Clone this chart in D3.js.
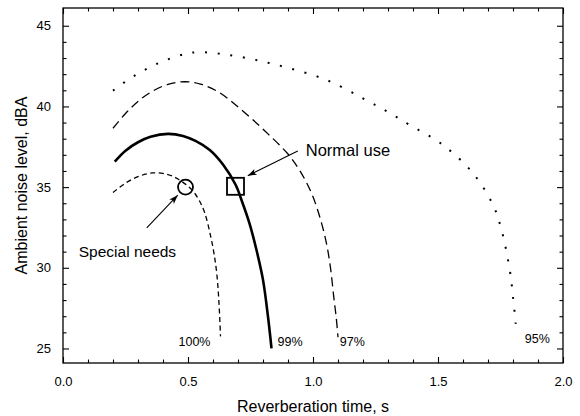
<!DOCTYPE html>
<html>
<head>
<meta charset="utf-8">
<script src="https://cdn.jsdelivr.net/npm/d3@7"></script>
<style>
  body { margin: 0; background: #fff; }
  svg text { font-family: "Liberation Sans", Arial, sans-serif; fill: #000; }
  .frame { fill: none; stroke: #000; stroke-width: 1.3; }
  .axis path { display: none; }
  .axis line { stroke: #000; stroke-width: 1.1; }
  .axis text { font-size: 13px; }
</style>
</head>
<body>
<svg width="580" height="416"></svg>
<script>
// ---- data (reverberation time s, noise level dBA) ----
const curve100 = [[0.2, 34.66], [0.25, 35.25], [0.3, 35.65], [0.36, 35.88], [0.42, 35.78], [0.46, 35.5],
  [0.494, 35.13], [0.52, 34.75], [0.544, 34.2], [0.567, 33.4], [0.59, 32.0], [0.605, 30.8],
  [0.616, 29.5], [0.624, 27.8], [0.63, 25.75]];
const curve99 = [[0.207, 36.58], [0.25, 37.26], [0.3, 37.78], [0.35, 38.12], [0.42, 38.3], [0.48, 38.17],
  [0.53, 37.86], [0.587, 37.3], [0.64, 36.4], [0.691, 35.13], [0.714, 34.2], [0.745, 32.8],
  [0.774, 31.1], [0.8, 29.25], [0.82, 26.97], [0.834, 25.0]];
const curve97 = [[0.2, 38.65], [0.25, 39.56], [0.3, 40.31], [0.35, 40.87], [0.42, 41.37], [0.487, 41.53],
  [0.55, 41.39], [0.62, 40.91], [0.68, 40.23], [0.75, 39.3], [0.82, 38.3], [0.9, 37.05], [0.94, 36.2],
  [0.97, 35.4], [1.0, 34.4], [1.03, 33.0], [1.054, 31.5], [1.07, 30.0], [1.083, 28.2],
  [1.093, 26.9], [1.1, 25.7]];
const curve95 = [[0.2, 40.98], [0.28, 41.85], [0.38, 42.67], [0.487, 43.25], [0.54, 43.36], [0.65, 43.22],
  [0.78, 42.85], [0.907, 42.36], [1.054, 41.64], [1.2, 40.5], [1.3, 39.65], [1.387, 38.85],
  [1.52, 37.61], [1.64, 35.86], [1.72, 33.9], [1.754, 32.35], [1.787, 29.87], [1.8, 28.21],
  [1.811, 26.52]];

const curveLabels = ["100%", "99%", "97%", "95%"];
const labelPos = [[0.59, 25.15], [0.858, 25.15], [1.107, 25.15], [1.847, 25.35]];

const xTicks = [0, 0.5, 1.0, 1.5, 2.0];
const xTickLabels = ["0.0", "0.5", "1.0", "1.5", "2.0"];
const yTicks = [25, 30, 35, 40, 45];

// marked design points and their callouts
const specialNeeds = [0.49, 35.0];
const normalUse = [0.69, 35.05];
const specialArrow = [[0.335, 32.47], [0.459, 34.5]];
const normalArrow = [[0.939, 37.24], [0.739, 35.7]];
const specialText = [0.063, 30.67];
const normalText = [0.971, 36.93];

const svg = d3.select("svg"),
    margin = {top: 8, right: 17, bottom: 53, left: 63},
    width = +svg.attr("width") - margin.left - margin.right,
    height = +svg.attr("height") - margin.top - margin.bottom;

const x = d3.scaleLinear().domain([0, 2]).range([0, width]);
const y = d3.scaleLinear().domain([24.1, 46.1]).range([height, 0]);

const g = svg.append("g").attr("transform", "translate(" + margin.left + "," + margin.top + ")");

const defs = svg.append("defs");
defs.append("marker")
    .attr("id", "head")
    .attr("viewBox", "0 0 10 10")
    .attr("refX", 10).attr("refY", 5)
    .attr("markerWidth", 9).attr("markerHeight", 9)
    .attr("markerUnits", "userSpaceOnUse")
    .attr("orient", "auto")
  .append("path")
    .attr("d", "M0,1.5 L10,5 L0,8.5 L2.5,5 Z")
    .style("fill", "#000");

// minor ticks every 0.1 s and every 1 dBA
const xMinor = d3.range(0, 2.0001, 0.1).filter(v => Math.abs(v * 2 - Math.round(v * 2)) > 1e-6);
const yMinor = d3.range(25, 46, 1).filter(v => v % 5 !== 0);

g.append("g").attr("class", "axis").attr("transform", "translate(0," + height + ")")
  .call(d3.axisBottom(x).tickValues(xTicks).tickSize(-6).tickPadding(14)
    .tickFormat((d, i) => xTickLabels[i]));
g.append("g").attr("class", "axis").attr("transform", "translate(0," + height + ")")
  .call(d3.axisBottom(x).tickValues(xMinor).tickSize(-3.5).tickFormat(""));
g.append("g").attr("class", "axis")
  .call(d3.axisTop(x).tickValues(xTicks).tickSize(-6).tickFormat(""));
g.append("g").attr("class", "axis")
  .call(d3.axisTop(x).tickValues(xMinor).tickSize(-3.5).tickFormat(""));

g.append("g").attr("class", "axis")
  .call(d3.axisLeft(y).tickValues(yTicks).tickSize(-6).tickPadding(12).tickFormat(d3.format("d")));
g.append("g").attr("class", "axis")
  .call(d3.axisLeft(y).tickValues(yMinor).tickSize(-3.5).tickFormat(""));
g.append("g").attr("class", "axis").attr("transform", "translate(" + width + ",0)")
  .call(d3.axisRight(y).tickValues(yTicks).tickSize(-6).tickFormat(""));
g.append("g").attr("class", "axis").attr("transform", "translate(" + width + ",0)")
  .call(d3.axisRight(y).tickValues(yMinor).tickSize(-3.5).tickFormat(""));

g.append("rect").attr("class", "frame")
  .attr("width", width).attr("height", height);

// curves
const line = d3.line().x(d => x(d[0])).y(d => y(d[1])).curve(d3.curveCatmullRom.alpha(0.5));
const curves = [
  {data: curve100, w: 1.3, dash: "5,3.5"},
  {data: curve99, w: 2.6, dash: null},
  {data: curve97, w: 1.3, dash: "9,5"},
  {data: curve95, w: 2, dash: "2,10.7"}
];
g.selectAll("path.curve")
  .data(curves)
  .enter().append("path")
    .attr("class", "curve")
    .attr("d", d => line(d.data))
    .style("fill", "none")
    .style("stroke", "#000")
    .style("stroke-width", d => d.w)
    .style("stroke-dasharray", d => d.dash);

g.selectAll("text.pct")
  .data(curveLabels)
  .enter().append("text")
    .attr("class", "pct")
    .attr("x", (d, i) => x(labelPos[i][0]))
    .attr("y", (d, i) => y(labelPos[i][1]))
    .attr("text-anchor", (d, i) => i === 0 ? "end" : "start")
    .style("font-size", "12.5px")
    .text(d => d);

// design points
g.append("circle")
  .attr("cx", x(specialNeeds[0])).attr("cy", y(specialNeeds[1]))
  .attr("r", 7.5)
  .style("fill", "none").style("stroke", "#000").style("stroke-width", 1.8);
g.append("rect")
  .attr("x", x(normalUse[0]) - 8.5).attr("y", y(normalUse[1]) - 8.5)
  .attr("width", 17).attr("height", 17)
  .style("fill", "none").style("stroke", "#000").style("stroke-width", 1.8);

// callout arrows
[specialArrow, normalArrow].forEach(a => {
  g.append("line")
    .attr("x1", x(a[0][0])).attr("y1", y(a[0][1]))
    .attr("x2", x(a[1][0])).attr("y2", y(a[1][1]))
    .style("stroke", "#000").style("stroke-width", 1.1)
    .attr("marker-end", "url(#head)");
});

g.append("text")
  .attr("x", x(specialText[0])).attr("y", y(specialText[1]))
  .style("font-size", "15.5px")
  .text("Special needs");
g.append("text")
  .attr("x", x(normalText[0])).attr("y", y(normalText[1]))
  .style("font-size", "16.5px")
  .text("Normal use");

// axis titles
svg.append("text")
  .attr("x", margin.left + width / 2).attr("y", 412)
  .attr("text-anchor", "middle")
  .style("font-size", "16px")
  .text("Reverberation time, s");
svg.append("text")
  .attr("transform", "translate(27," + (margin.top + height / 2) + ") rotate(-90)")
  .attr("text-anchor", "middle")
  .style("font-size", "16px")
  .text("Ambient noise level, dBA");
</script>
</body>
</html>
